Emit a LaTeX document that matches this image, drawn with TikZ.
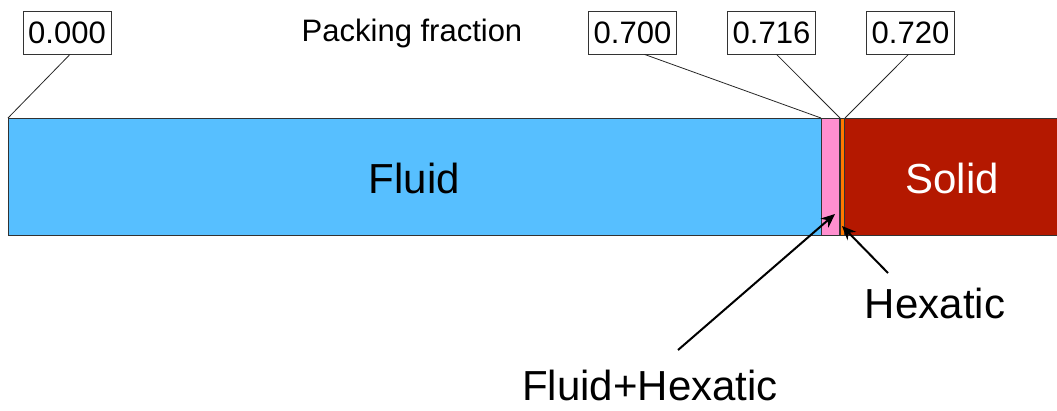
\documentclass[tikz,border=0pt]{standalone}
\usepackage{fontspec}
\setmainfont{Liberation Sans}
\usetikzlibrary{arrows.meta}
\definecolor{fluidc}{RGB}{87,191,255}
\definecolor{pinkc}{RGB}{255,143,207}
\definecolor{orangec}{RGB}{255,120,0}
\definecolor{solidc}{RGB}{180,24,0}
\definecolor{edgec}{RGB}{50,50,50}
\tikzset{
  seg/.style={draw=edgec, line width=0.9pt, inner sep=0pt, anchor=north west, minimum height=117pt},
  valbox/.style={draw=black!80, line width=0.8pt, fill=white, inner sep=0pt, minimum width=88pt, minimum height=43pt, font=\fontsize{31}{32}\selectfont},
  leader/.style={draw=black!85, line width=0.8pt},
  pointer/.style={draw=black, line width=2pt, -{Stealth[length=14pt,width=12pt]}},
  biglabel/.style={font=\fontsize{42}{44}\selectfont, inner sep=0pt}
}
\begin{document}
\begin{tikzpicture}[x=1pt,y=-1pt]
\useasboundingbox (0,0) rectangle (1057,410);
% bar segments
\node[seg, fill=fluidc, minimum width=813pt] (fluid) at (8,118) {};
\node[biglabel] (fluidtxt) at (414.5,178) {Fluid};
\node[seg, fill=pinkc, minimum width=19pt] (fh) at (821,118) {};
\node[seg, fill=orangec, minimum width=4pt] (hex) at (840,118) {};
\node[seg, fill=solidc, minimum width=216pt] (solid) at (844,118) {};
\node[biglabel, text=white] (solidtxt) at (952,178) {Solid};
\draw[edgec, line width=1.6pt] (hex.north west) -- (hex.south west);
% title
\node[font=\fontsize{31}{32}\selectfont, inner sep=0pt] (title) at (412,33) {Packing fraction};
% value boxes
\node[valbox] (v0) at (67,32.5) {0.000};
\node[valbox] (v1) at (632.5,32.5) {0.700};
\node[valbox] (v2) at (771.5,32.5) {0.716};
\node[valbox] (v3) at (910.5,32.5) {0.720};
\draw[leader] ([xshift=3pt]v0.south) -- (fluid.north west);
\draw[leader] ([xshift=12pt]v1.south) -- (fh.north west);
\draw[leader] ([xshift=5pt]v2.south) -- (hex.north west);
\draw[leader] ([xshift=-2pt]v3.south) -- ([xshift=1pt]solid.north west);
% pointer labels
\node[biglabel] (fhlab) at (650,385) {Fluid+Hexatic};
\node[biglabel] (hexlab) at (935,303) {Hexatic};
\coordinate (fhtail) at (678,350);
\coordinate (hextail) at (888,273);
\draw[pointer] (fhtail) -- (835,214);
\draw[pointer] (hextail) -- (842,226);
\end{tikzpicture}
\end{document}
